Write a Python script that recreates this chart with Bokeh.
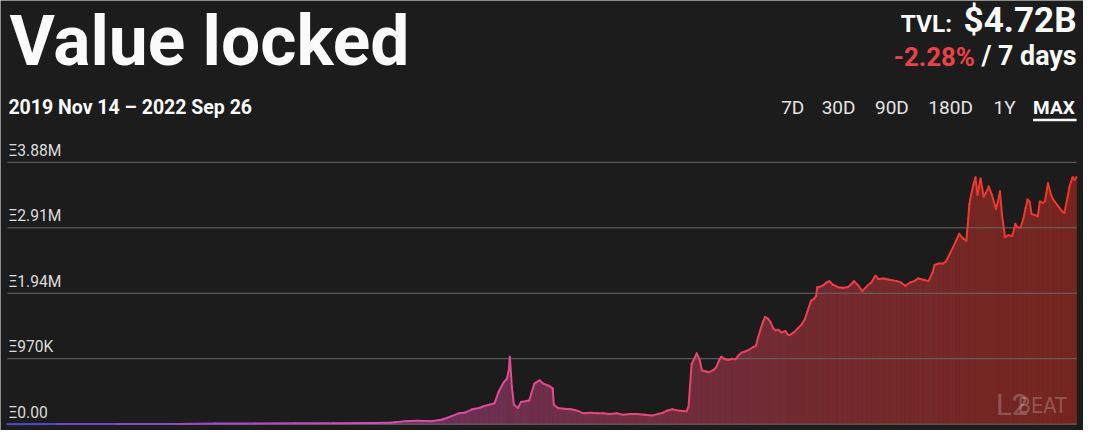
import pandas as pd
from bokeh.plotting import figure
from bokeh.models import Range1d, Label, ColumnDataSource
from bokeh.embed import file_html
from bokeh.resources import INLINE

# ---------------- data ----------------
START_DATE = "2019-11-14"
# days since START_DATE
days_since_start = [
    0, 48, 106, 165, 203, 242, 281, 319, 358, 375, 380, 390, 402, 416, 426, 435, 442, 448,
    455, 462, 467, 472, 477, 481, 486, 489, 491, 492, 494, 496, 500, 503, 511, 513, 516,
    521, 525, 530, 534, 535, 539, 545, 552, 558, 564, 571, 578, 583, 590, 597, 603, 610,
    616, 624, 632, 637, 642, 646, 651, 658, 665, 667, 670, 673, 675, 678, 680, 684, 687,
    691, 694, 697, 699, 703, 706, 710, 713, 716, 719, 723, 726, 730, 733, 735, 737, 740,
    742, 745, 747, 750, 752, 755, 758, 762, 764, 766, 770, 774, 778, 781, 784, 787, 790,
    792, 793, 795, 799, 802, 805, 808, 811, 813, 818, 823, 826, 829, 833, 837, 842, 846,
    850, 853, 858, 864, 871, 875, 879, 884, 888, 892, 897, 902, 906, 908, 912, 916, 919,
    922, 926, 929, 932, 936, 939, 941, 942, 944, 946, 948, 950, 953, 956, 958, 961, 964,
    966, 968, 970, 972, 974, 977, 980, 984, 986, 987, 989, 992, 995, 997, 999, 1001, 1003,
    1006, 1009, 1011, 1014, 1016, 1019, 1022, 1024, 1028, 1031, 1033, 1035, 1038, 1040,
    1043, 1045, 1047,
]
# value locked, millions of ETH
tvl_eth_m = [
    0.000, 0.001, 0.002, 0.004, 0.008, 0.010, 0.012, 0.015, 0.018, 0.020, 0.030, 0.045,
    0.050, 0.045, 0.070, 0.120, 0.160, 0.170, 0.220, 0.240, 0.270, 0.290, 0.310, 0.480,
    0.620, 0.670, 0.800, 1.000, 0.550, 0.290, 0.240, 0.330, 0.350, 0.450, 0.600, 0.650,
    0.600, 0.570, 0.530, 0.290, 0.240, 0.230, 0.220, 0.200, 0.160, 0.170, 0.160, 0.160,
    0.150, 0.160, 0.140, 0.150, 0.150, 0.140, 0.130, 0.150, 0.170, 0.200, 0.220, 0.200,
    0.190, 0.260, 0.890, 0.980, 1.050, 0.950, 0.800, 0.780, 0.770, 0.800, 0.840, 0.950,
    1.000, 0.960, 0.950, 0.970, 0.960, 1.020, 1.060, 1.080, 1.100, 1.140, 1.160, 1.280,
    1.380, 1.520, 1.590, 1.560, 1.520, 1.420, 1.390, 1.400, 1.360, 1.380, 1.330, 1.320,
    1.360, 1.420, 1.480, 1.560, 1.700, 1.830, 1.860, 1.900, 2.030, 2.030, 2.060, 2.100,
    2.120, 2.070, 2.050, 2.030, 2.020, 2.030, 2.070, 2.120, 2.060, 1.970, 2.050, 2.100,
    2.200, 2.150, 2.160, 2.140, 2.120, 2.100, 2.050, 2.100, 2.120, 2.160, 2.140, 2.120,
    2.250, 2.360, 2.380, 2.380, 2.410, 2.500, 2.620, 2.720, 2.820, 2.750, 2.720, 3.050,
    3.260, 3.420, 3.550, 3.660, 3.400, 3.640, 3.370, 3.420, 3.520, 3.400, 3.300, 3.190,
    3.300, 3.450, 3.100, 2.770, 2.800, 2.790, 2.900, 2.970, 2.920, 2.910, 3.050, 3.200,
    3.330, 3.300, 3.110, 3.100, 3.080, 3.300, 3.280, 3.300, 3.570, 3.400, 3.330, 3.250,
    3.190, 3.150, 3.130, 3.350, 3.520, 3.660, 3.620, 3.660,
]
tick_values_m = [0.0, 0.97, 1.94, 2.91, 3.88]
tick_labels = ["Ξ0.00", "Ξ970K", "Ξ1.94M", "Ξ2.91M", "Ξ3.88M"]

title_text = "Value locked"
date_range_text = "2019 Nov 14 – 2022 Sep 26"
tvl_label = "TVL:"
tvl_value = "$4.72B"
change_pct = "-2.28%"
change_period = "/ 7 days"
range_buttons = ["7D", "30D", "90D", "180D", "1Y", "MAX"]
selected_button = "MAX"

# ---------------- style / layout ----------------
BG = "#1c1c1c"
WHITE = "#fafafa"
RED = "#ea4249"
FONT = "Roboto"
W, H = 1083, 430
# layout is designed on a 1096x441 board (origin at 3,5) and scaled onto W x H
SX, SY = W / 1096.0, H / 441.0
BASE_SHIFT = 0.35  # label baseline correction (em)


def FX(rx):
    return (rx - 3) * SX


def FY(ry):
    return (ry - 5) * SY


CH_L, CH_R = FX(10), FX(1092)
Y_TOP_TICK, Y_ZERO = FY(171), FY(439.5)

line_stops = [
    (0.00, (72, 70, 205)),
    (0.18, (160, 72, 200)),
    (0.36, (214, 78, 178)),
    (0.50, (226, 74, 140)),
    (0.66, (233, 68, 100)),
    (0.82, (238, 60, 62)),
    (1.00, (242, 52, 38)),
]
bg_rgb = (28, 28, 28)


def lerp_color(f):
    for (f0, c0), (f1, c1) in zip(line_stops[:-1], line_stops[1:]):
        if f <= f1:
            t = 0 if f1 == f0 else (f - f0) / (f1 - f0)
            return tuple(c0[k] + (c1[k] - c0[k]) * t for k in range(3))
    return line_stops[-1][1]


def to_hex(c):
    return "#%02x%02x%02x" % tuple(int(round(v)) for v in c)


def blend(c, a):
    return tuple(a * c[k] + (1 - a) * bg_rgb[k] for k in range(3))


dates = pd.Timestamp(START_DATE) + pd.to_timedelta(days_since_start, unit="D")
x_ms = [float(v) / 1e6 for v in dates.astype("int64")]
x0_ms, x1_ms = x_ms[0], x_ms[-1]

ms_per_px = (x1_ms - x0_ms) / (CH_R - CH_L)
m_per_px = max(tick_values_m) / (Y_ZERO - Y_TOP_TICK)
x_lo = x0_ms - CH_L * ms_per_px
x_hi = x_lo + W * ms_per_px
y_lo = -(H - Y_ZERO) * m_per_px
y_hi = y_lo + H * m_per_px


def X(fx):  # figure px -> data x
    return x_lo + fx * ms_per_px


def Y(fy):  # figure px (from top) -> data y
    return (Y_ZERO - fy) * m_per_px


seg = dict(x0=[], y0=[], x1=[], y1=[], color=[])
areas = dict(xs=[], ys=[], fill=[])
for i in range(len(x_ms) - 1):
    f = ((x_ms[i] + x_ms[i + 1]) / 2 - x0_ms) / (x1_ms - x0_ms)
    c = lerp_color(f)
    seg["x0"].append(x_ms[i]); seg["x1"].append(x_ms[i + 1])
    seg["y0"].append(tvl_eth_m[i]); seg["y1"].append(tvl_eth_m[i + 1])
    seg["color"].append(to_hex(c))
    areas["xs"].append([x_ms[i], x_ms[i + 1], x_ms[i + 1], x_ms[i]])
    areas["ys"].append([tvl_eth_m[i], tvl_eth_m[i + 1], 0, 0])
    areas["fill"].append(to_hex(blend(c, 0.42)))

p = figure(width=W, height=H, x_range=Range1d(x_lo, x_hi), y_range=Range1d(y_lo, y_hi),
           x_axis_location=None, y_axis_location=None, toolbar_location=None,
           output_backend="svg", min_border=0, outline_line_color=None,
           background_fill_color=BG, border_fill_color=BG)
p.xgrid.visible = False
p.ygrid.visible = False

# area fill
r_area = p.patches(xs="xs", ys="ys", fill_color="fill", line_color="fill", line_width=0.8,
                   source=ColumnDataSource(areas))
r_area.level = "image"

# grid lines + inside tick labels
r_grid = p.segment(x0=[x0_ms] * len(tick_values_m), y0=tick_values_m,
                   x1=[x1_ms] * len(tick_values_m), y1=tick_values_m,
                   line_color="#686868", line_width=1)
r_grid.level = "underlay"
TICK_SIZE = 16 * SY
for tv, tl in zip(tick_values_m, tick_labels):
    p.add_layout(Label(x=x0_ms, y=tv, x_offset=1, y_offset=6 * SY + BASE_SHIFT * TICK_SIZE,
                       text=tl, text_font=FONT, text_font_size=f"{TICK_SIZE:.1f}px",
                       text_color="#dcdcdc", text_baseline="alphabetic"))

# line
p.segment(x0="x0", y0="y0", x1="x1", y1="y1", line_color="color", line_width=2,
          line_cap="round", source=ColumnDataSource(seg))


def flabel(fx, fy, text, s, color=WHITE, bold=True, align="left", font=FONT, alpha=1.0):
    """label with baseline at figure px (fx, fy), font size s px"""
    p.add_layout(Label(x=X(fx), y=Y(fy - BASE_SHIFT * s), text=text,
                       text_font=font, text_font_size=f"{s:.1f}px",
                       text_font_style="bold" if bold else "normal",
                       text_color=color, text_alpha=alpha, text_align=align,
                       text_baseline="alphabetic"))


def tlabel(rx, ry, text, size, **kw):
    flabel(FX(rx), FY(ry), text, size * SY, **kw)


# watermark
tlabel(1043, 430, "L2", 30, color="#ffffff", bold=False, align="right", alpha=0.24)
tlabel(1082, 428, "BEAT", 22, color="#ffffff", bold=False, align="right", alpha=0.24,
       font="'Liberation Sans Narrow', 'DejaVu Sans Condensed', sans-serif")

# header
flabel(FX(12), 65.5, title_text, 69.5)
tlabel(11, 122, date_range_text, 20)
tlabel(966, 37, tvl_label, 25, align="right")
tlabel(1092, 38, tvl_value, 36, align="right")
tlabel(907, 72, change_pct, 26.5, color=RED)
tlabel(1092, 72, change_period, 27.5, align="right")

button_left = [793, 834, 888, 942, 1008, 1048]
for name, bx in zip(range_buttons, button_left):
    sel = name == selected_button
    tlabel(bx, 121.5, name, 19.5, color=WHITE if sel else "#e4e4e4", bold=sel)
p.segment(x0=[X(FX(1048))], y0=[Y(FY(127.5))], x1=[X(FX(1092))], y1=[Y(FY(127.5))],
          line_color=WHITE, line_width=2.5)

open("out.html", "w").write(file_html(p, INLINE))
